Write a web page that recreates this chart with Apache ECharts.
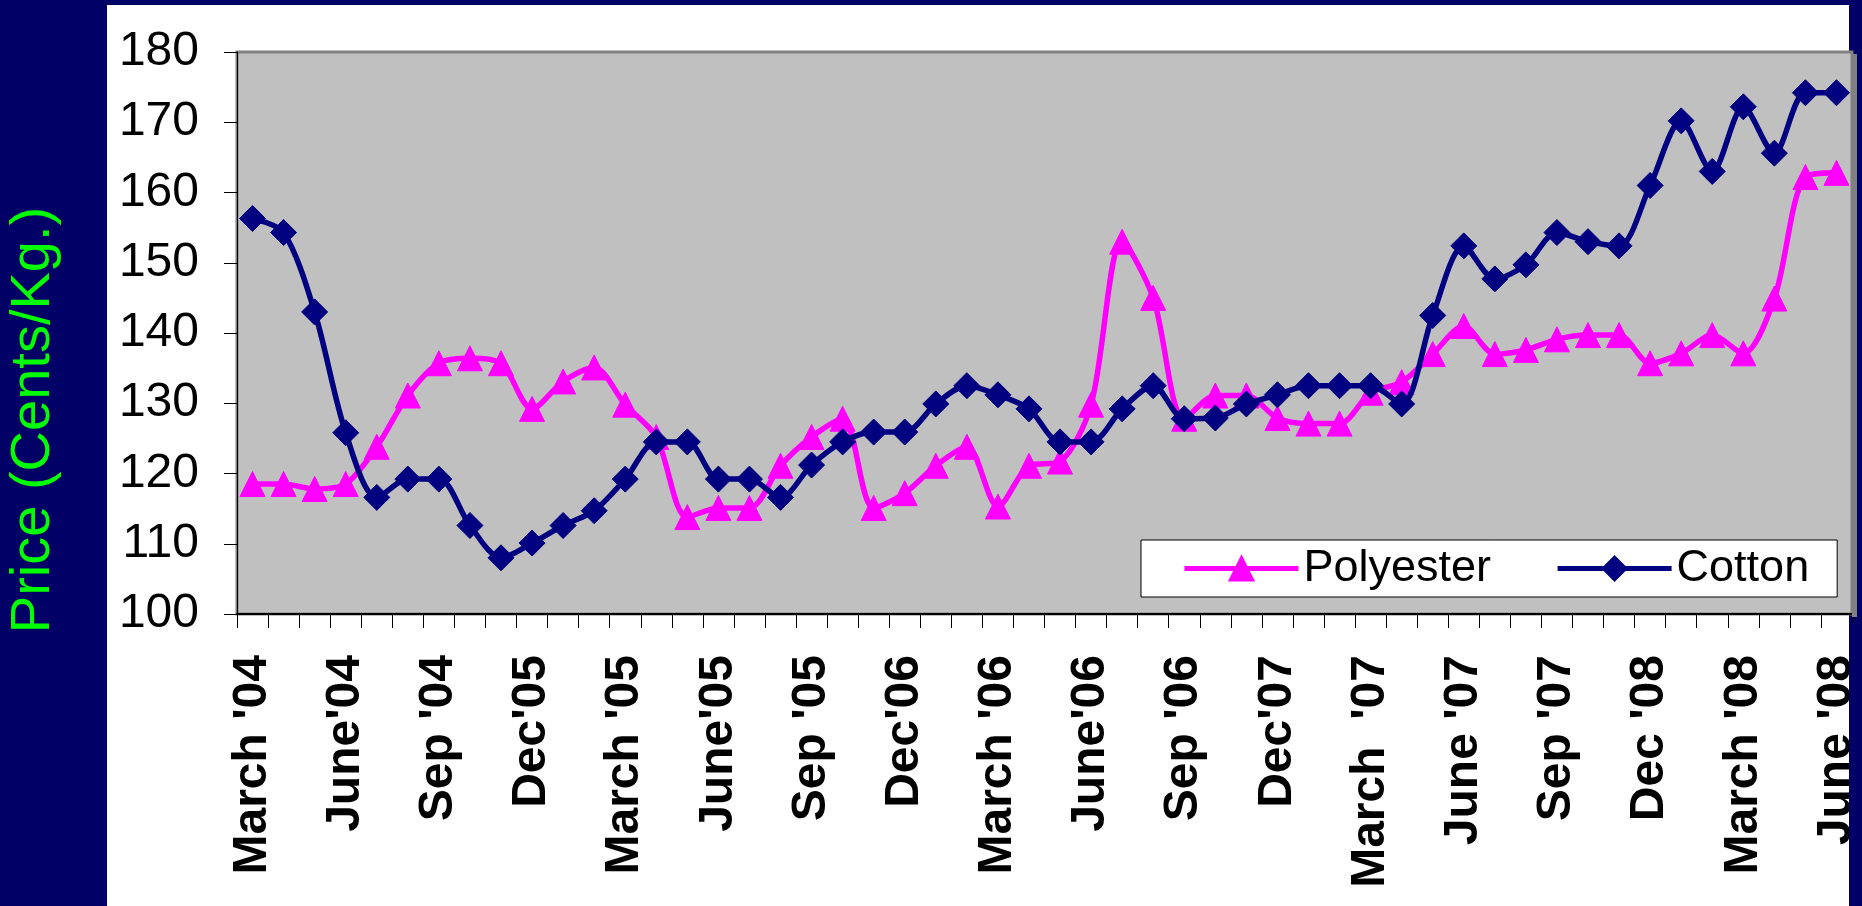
<!DOCTYPE html>
<html><head><meta charset="utf-8">
<script src="https://cdn.jsdelivr.net/npm/echarts@6/dist/echarts.min.js"></script>
<style>html,body{margin:0;padding:0;background:#000066}#c{width:1862px;height:906px}</style>
</head><body><div id="c"></div>
<script>
const months = ["March '04","Apr '04","May '04","June'04","July '04","Aug '04","Sep '04","Oct '04","Nov '04",
  "Dec'05","Jan '05","Feb '05","March '05","Apr '05","May '05","June'05","July '05","Aug '05","Sep '05","Oct '05","Nov '05",
  "Dec'06","Jan '06","Feb '06","March '06","Apr '06","May '06","June'06","July '06","Aug '06","Sep '06","Oct '06","Nov '06",
  "Dec'07","Jan '07","Feb '07","March  '07","Apr '07","May '07","June '07","July '07","Aug '07","Sep '07","Oct '07","Nov '07",
  "Dec '08","Jan '08","Feb '08","March '08","Apr '08","May '08","June '08"];
const polyester = [118.5,118.5,117.8,118.5,123.8,131.1,135.7,136.4,135.7,129.2,
  133.1,135.1,129.8,125.2,113.8,115.1,115.1,121.1,125.2,127.8,
  115.1,117.2,121.1,123.8,115.3,121.1,121.7,129.8,153.0,145.0,
  127.8,131.1,131.1,127.9,127.1,127.1,131.5,133.0,137.0,141.0,
  137.0,137.6,139.1,139.7,139.7,135.7,137.1,139.7,137.1,144.9,
  162.2,162.8];
const cotton = [156.3,154.3,143.0,125.8,116.6,119.2,119.2,112.6,108.0,110.1,
  112.6,114.7,119.2,124.5,124.5,119.2,119.2,116.6,121.2,124.5,
  125.9,125.9,129.9,132.5,131.2,129.2,124.5,124.5,129.2,132.5,
  127.8,127.9,129.9,131.2,132.5,132.5,132.5,129.9,142.5,152.4,
  147.7,149.7,154.3,153.0,152.4,161.0,170.2,163.0,172.2,165.6,
  174.2,174.2];
const seriesNames = ['Polyester','Cotton'];
const yAxisTitle = 'Price (Cents/Kg.)';

const FF = '"Liberation Sans", Arial, Helvetica, sans-serif';
const chart = echarts.init(document.getElementById('c'), null, {renderer:'canvas'});
chart.setOption({
  backgroundColor:'#000066',
  animation:false,
  graphic:[
    {type:'rect', z:-10, silent:true, shape:{x:107,y:5,width:1742,height:901}, style:{fill:'#ffffff'}},
    {type:'rect', z:1, silent:true, shape:{x:1852,y:54,width:5,height:563}, style:{fill:'#808080'}},
    {type:'rect', z:100, silent:true, shape:{x:1849,y:622,width:13,height:284}, style:{fill:'#000066'}},
    {type:'text', z:100, x:34, y:420, rotation:Math.PI/2, silent:true,
      style:{text:yAxisTitle, fill:'#00FF00', font:'56px ' + FF, align:'center', verticalAlign:'middle'}}
  ],
  grid:{left:237, top:52, right:10, bottom:292, show:true, backgroundColor:'#C0C0C0', borderColor:'#808080', borderWidth:3},
  legend:{
    data:seriesNames, left:1141, top:540, orient:'horizontal',
    padding:[6,28,6,41], itemGap:64, itemWidth:114, itemHeight:30,
    backgroundColor:'#ffffff', borderColor:'#000000', borderWidth:1, borderRadius:0,
    lineStyle:{width:5},
    textStyle:{fontSize:45, color:'#000', fontFamily:FF}
  },
  xAxis:{
    type:'category', data:months, boundaryGap:true,
    axisLine:{show:true, lineStyle:{color:'#000', width:2}},
    axisTick:{show:true, interval:0, length:14, lineStyle:{color:'#000', width:1}},
    axisLabel:{interval:2, rotate:90, margin:41, fontSize:48, fontWeight:'bold', color:'#000', fontFamily:FF},
    splitLine:{show:false}
  },
  yAxis:{
    type:'value', min:100, max:180, interval:10,
    axisLine:{show:true, lineStyle:{color:'#000', width:1}},
    axisTick:{show:true, length:13, lineStyle:{color:'#000', width:1}},
    axisLabel:{margin:38, fontSize:48, color:'#000', fontFamily:FF},
    splitLine:{show:false}
  },
  series:[
    {name:seriesNames[0], type:'line', data:polyester, smooth:0.3, showAllSymbol:true, symbol:'triangle', symbolSize:25, z:3,
      lineStyle:{color:'#FF00FF', width:5.5}, itemStyle:{color:'#FF00FF', borderColor:'#FF00FF', borderWidth:1}},
    {name:seriesNames[1], type:'line', data:cotton, smooth:0.3, showAllSymbol:true, symbol:'diamond', symbolSize:26, z:4,
      lineStyle:{color:'#000080', width:5.5}, itemStyle:{color:'#000080', borderColor:'#000080', borderWidth:1}}
  ]
});
</script></body></html>
